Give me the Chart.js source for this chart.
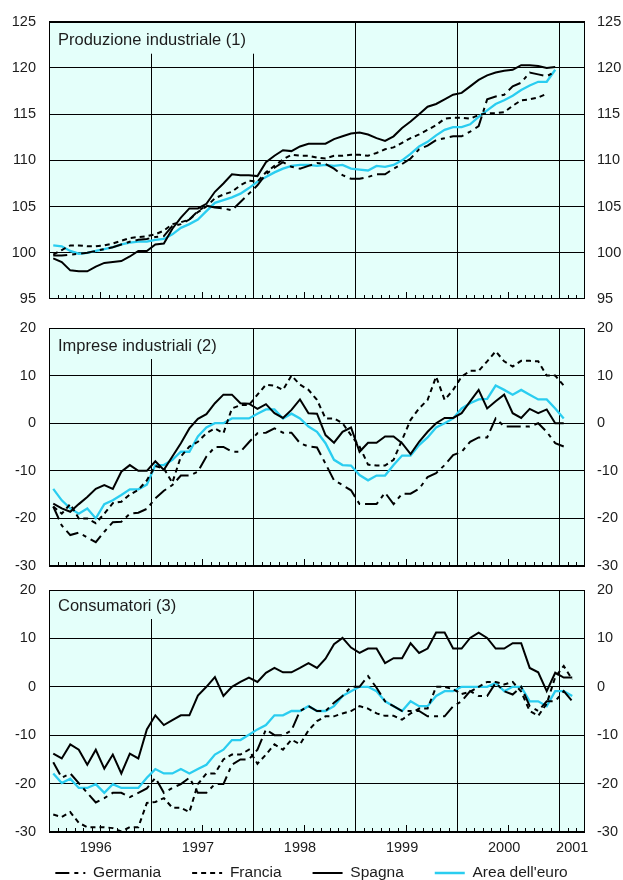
<!DOCTYPE html>
<html>
<head>
<meta charset="utf-8">
<script src="https://cdn.jsdelivr.net/npm/chart.js@4.4.1/dist/chart.umd.min.js"></script>
<style>
  html, body { margin: 0; padding: 0; background: #fff; overflow: hidden; }
  #wrap { position: relative; width: 623px; height: 880px; overflow: hidden; }
  #wrap canvas { position: absolute; left: 0; top: 0; }
</style>
</head>
<body>
<div id="wrap">
  <canvas id="c1" width="623" height="880"></canvas>
  <canvas id="c2" width="623" height="880"></canvas>
  <canvas id="c3" width="623" height="940"></canvas>
</div>
<script>
// categories: months from Jan 1996 to Mar 2001
const years = ['1996', '1997', '1998', '1999', '2000', '2001'];
const monthNames = ['gen', 'feb', 'mar', 'apr', 'mag', 'giu', 'lug', 'ago', 'set', 'ott', 'nov', 'dic'];
const months = [];
years.forEach(y => monthNames.forEach(m => months.push(m + ' ' + y)));
months.length = 63;
const yearTickIndex = [5, 17, 29, 41, 53, 61];

const seriesNames = ['Germania', 'Francia', 'Spagna', "Area dell'euro"];

// Produzione industriale (1)
const prodGermania = [
  99.7, 99.7, 99.8, 99.9, 100.0, 100.2, 100.4, 100.6, 100.9, 101.2,
  101.4, 101.5, 101.7, 101.8, 102.9, 103.1, 103.6, 104.5, 105.1, 104.9,
  104.8, 104.6, 105.5, 106.4, 107.3, 108.5, 109.2, 109.8, 109.3, 109.1,
  109.4, 109.7, 109.6, 109.1, 108.4, 108.0, 108.0, 108.2, 108.5, 108.5,
  109.1, 109.6, 110.2, 111.2, 111.6, 112.2, 112.4, 112.6, 112.6, 113.1,
  113.7, 116.6, 116.9, 117.1, 118.0, 118.4, 119.5, 119.3, 119.1, 119.6
];
const prodFrancia = [
  99.8, 100.3, 100.8, 100.8, 100.7, 100.7, 100.8, 101.0, 101.3, 101.6,
  101.7, 101.8, 102.0, 102.4, 103.1, 103.3, 103.6, 104.4, 105.0, 105.9,
  106.3, 106.6, 107.3, 107.8, 107.7, 108.7, 109.4, 110.1, 110.6, 110.5,
  110.5, 110.3, 110.2, 110.5, 110.5, 110.6, 110.6, 110.5, 110.8, 111.2,
  111.4, 111.9, 112.4, 112.8, 113.3, 113.8, 114.5, 114.6, 114.6, 114.5,
  114.9, 115.1, 115.1, 115.2, 115.9, 116.5, 116.6, 116.8, 117.2, null
];
const prodSpagna = [
  99.4, 99.0, 98.1, 98.0, 98.0, 98.5, 98.9, 99.0, 99.1, 99.6,
  100.2, 100.2, 100.9, 101.0, 102.6, 103.8, 104.8, 104.8, 105.3, 106.6,
  107.5, 108.5, 108.4, 108.4, 108.3, 109.8, 110.5, 111.1, 111.0, 111.5,
  111.8, 111.8, 111.8, 112.3, 112.6, 112.9, 113.0, 112.8, 112.4, 112.1,
  112.6, 113.5, 114.2, 115.0, 115.8, 116.1, 116.6, 117.1, 117.3, 118.0,
  118.7, 119.2, 119.5, 119.7, 119.8, 120.3, 120.3, 120.2, 120.0, 120.1
];
const prodEuro = [
  100.8, 100.7, 100.2, 99.9, 100.0, 100.2, 100.4, 100.6, 100.9, 101.1,
  101.2, 101.2, 101.4, 101.5, 102.0, 102.7, 103.1, 103.6, 104.5, 105.4,
  105.7, 106.0, 106.4, 107.0, 107.7, 108.2, 108.7, 109.1, 109.4, 109.5,
  109.5, 109.4, 109.5, 109.4, 109.5, 109.1, 109.0, 108.9, 109.4, 109.3,
  109.5, 110.0, 110.7, 111.5, 112.0, 112.7, 113.3, 113.6, 113.6, 113.9,
  114.7, 115.4, 116.1, 116.5, 117.0, 117.6, 118.1, 118.5, 118.5, 119.8
];

// Imprese industriali (2)
const impGermania = [
  -17.5, -21.5, -23.5, -23.0, -24.0, -25.0, -22.8, -20.8, -20.7, -19.0,
  -18.8, -18.0, -15.8, -14.2, -13.0, -11.0, -11.0, -10.2, -7.0, -5.0,
  -5.0, -6.0, -6.0, -4.0, -2.1, -2.0, -1.1, -2.0, -2.0, -4.2,
  -4.9, -5.1, -8.5, -12.0, -13.0, -14.1, -17.0, -17.0, -17.0, -14.6,
  -17.0, -14.8, -14.8, -13.8, -11.3, -10.5, -8.8, -6.7, -6.0, -3.9,
  -3.0, -3.0, 1.0, -0.7, -0.7, -0.7, -0.7, 0.0, -1.8, -4.2, -4.9
];
const impFrancia = [
  -17.5, -19.0, -17.0, -20.0, -20.0, -21.0, -19.0, -16.8, -16.5, -15.0,
  -14.0, -12.0, -9.0, -9.5, -12.5, -7.0, -4.9, -3.9, -2.1, -1.1,
  -2.1, 3.1, 3.8, 3.8, 6.0, 8.1, 7.9, 7.0, 10.0, 8.1,
  7.0, 4.9, 1.0, 1.0, 0.0, -2.5, -4.9, -8.7, -8.9, -8.9,
  -7.7, -3.5, 0.7, 3.1, 4.9, 9.8, 4.9, 7.0, 9.8, 11.0,
  11.0, 13.0, 15.1, 13.0, 11.9, 13.1, 13.1, 13.0, 10.0, 10.0, 7.9
];
const impSpagna = [
  -16.9, -17.9, -18.6, -17.0, -15.5, -13.8, -13.0, -13.8, -10.2, -8.8,
  -10.0, -10.0, -8.0, -9.8, -7.0, -4.2, -1.1, 0.9, 1.9, 4.2,
  6.0, 6.0, 4.2, 4.1, 3.0, 4.0, 2.1, 1.1, 2.8, 5.0,
  2.1, 2.0, -2.5, -4.1, -1.8, -0.9, -6.0, -4.1, -4.1, -2.8,
  -2.8, -4.2, -6.5, -3.9, -1.8, 0.0, 1.1, 1.1, 2.1, 4.6,
  7.0, 3.1, 4.6, 6.0, 2.1, 1.1, 3.0, 2.1, 2.9, 0.0, 0.0
];
const impEuro = [
  -13.8, -16.2, -17.9, -19.0, -17.9, -20.0, -17.0, -16.2, -15.1, -13.9,
  -13.9, -12.9, -8.8, -8.8, -7.7, -6.0, -6.0, -2.8, -0.9, 0.0,
  0.0, 1.0, 1.0, 1.0, 2.0, 2.9, 2.9, 1.0, 2.0, 1.0,
  -0.7, -1.8, -4.2, -7.7, -8.8, -8.9, -10.9, -12.0, -11.0, -11.0,
  -8.8, -6.8, -6.8, -4.6, -3.0, -0.9, 0.0, 1.0, 3.1, 4.2,
  5.0, 5.1, 7.9, 7.0, 6.0, 7.0, 6.0, 5.0, 5.0, 3.1, 1.0
];

// Consumatori (3)
const consGermania = [
  -15.6, -18.8, -17.9, -19.9, -21.9, -23.9, -23.0, -21.9, -21.9, -22.8,
  -21.9, -21.0, -18.8, -21.9, -20.9, -20.1, -18.8, -21.9, -21.9, -20.1,
  -20.1, -16.1, -15.0, -15.0, -13.0, -8.8, -10.0, -10.0, -9.0, -5.0,
  -4.0, -5.0, -5.0, -3.3, -1.9, 0.0, 0.0, 2.2, -0.2, -3.0,
  -4.0, -5.0, -5.0, -5.0, -6.1, -6.1, -6.1, -4.0, -3.0, -0.9,
  -1.9, -1.9, 0.8, -0.9, -1.6, 0.0, -4.0, -5.0, -3.0, -3.0,
  -0.9, -3.0
];
const consFrancia = [
  -26.4, -26.9, -25.9, -28.1, -29.0, -29.0, -29.0, -29.2, -29.9, -29.0,
  -29.0, -24.0, -23.8, -23.0, -25.0, -25.0, -25.9, -20.1, -17.9, -17.9,
  -15.0, -14.0, -14.0, -13.0, -15.9, -14.0, -11.9, -13.0, -10.9, -11.9,
  -9.0, -7.1, -6.1, -6.1, -5.5, -5.0, -4.0, -4.5, -5.5, -6.0,
  -6.0, -6.8, -5.5, -4.5, -4.5, 0.0, 0.0, -0.5, -1.5, -1.0,
  0.0, 1.0, 1.0, 0.5, 1.0, -1.0, -5.0, -6.0, -3.5, 2.0,
  4.3, 1.5
];
const consSpagna = [
  -13.8, -14.8, -11.9, -13.0, -16.1, -13.0, -16.9, -14.0, -17.9, -13.8,
  -14.8, -8.8, -5.9, -7.9, -6.9, -5.9, -5.9, -1.8, 0.0, 2.0,
  -1.9, 0.0, 1.0, 1.9, 1.0, 2.9, 3.9, 3.0, 3.0, 3.9,
  4.9, 3.9, 5.8, 8.8, 10.1, 8.1, 7.0, 7.9, 7.9, 4.9,
  5.9, 5.9, 9.0, 7.0, 7.9, 11.2, 11.2, 7.9, 7.9, 10.1,
  11.2, 10.1, 7.9, 7.9, 9.0, 9.0, 3.9, 3.0, -0.9, 2.9,
  1.9, 1.9
];
const consEuro = [
  -17.9, -19.9, -19.0, -20.9, -20.9, -20.1, -21.9, -20.1, -20.9, -20.9,
  -20.9, -18.8, -17.0, -17.9, -17.9, -17.0, -17.9, -17.0, -16.1, -14.0,
  -13.0, -11.0, -11.0, -9.9, -8.8, -7.9, -5.9, -5.9, -5.0, -5.0,
  -4.0, -5.0, -5.0, -4.0, -1.9, -0.9, 0.0, 0.0, -0.9, -3.0,
  -4.0, -5.0, -3.0, -4.0, -4.0, -1.9, -0.9, -0.9, 0.0, 0.0,
  0.0, 0.0, 0.8, -0.9, 0.0, 0.0, -3.0, -3.0, -4.0, -0.9,
  -0.9, -1.9
];

const BG = '#E4FFFA';
const CYAN = '#2ACDF0';
const FONT = '"Liberation Sans", Arial, sans-serif';
const TEXT = '#1c1c1c';

// fill plot area, title box, month ticks, frame
const panelDeco = {
  id: 'panelDeco',
  afterLayout(chart, args, opts) {
    // pull the legend row up under the year labels
    const lg = chart.legend;
    if (lg && opts.legendTop != null) {
      const d = lg.top - opts.legendTop;
      lg.top -= d;
      lg.bottom -= d;
    }
  },
  beforeDraw(chart) {
    const a = chart.chartArea, ctx = chart.ctx;
    ctx.save();
    ctx.fillStyle = BG;
    ctx.fillRect(a.left, a.top, a.right - a.left, a.bottom - a.top);
    ctx.restore();
  },
  beforeDatasetsDraw(chart, args, opts) {
    const a = chart.chartArea, ctx = chart.ctx, xs = chart.scales.x;
    ctx.save();
    // month ticks along the bottom
    ctx.strokeStyle = '#000';
    ctx.lineWidth = 1;
    ctx.beginPath();
    for (let i = 1; i < months.length; i++) {
      if (i % 12 === 0) continue;
      const x = Math.round(xs.getPixelForValue(i - 0.5)) + 0.5;
      const len = i % 12 === 6 ? 7 : 4;
      ctx.moveTo(x, a.bottom);
      ctx.lineTo(x, a.bottom - len);
    }
    ctx.stroke();
    // title box
    ctx.font = '16.5px ' + FONT;
    const w = ctx.measureText(opts.text).width;
    ctx.fillStyle = BG;
    ctx.fillRect(a.left + 1, a.top + 1, w + 18, opts.boxH);
    ctx.fillStyle = TEXT;
    ctx.textBaseline = 'middle';
    ctx.fillText(opts.text, a.left + 9, a.top + opts.textY);
    ctx.restore();
  },
  afterDraw(chart) {
    const a = chart.chartArea, ctx = chart.ctx;
    ctx.save();
    ctx.strokeStyle = '#000';
    ctx.lineWidth = 1;
    ctx.strokeRect(Math.round(a.left) + 0.5, Math.round(a.top) + 0.5,
      Math.round(a.right - a.left) - 1, Math.round(a.bottom - a.top) - 1);
    ctx.restore();
  }
};

function buildDatasets(g, f, s, e) {
  const vals = [g, f, s, e];
  const colors = ['#000', '#000', '#000', CYAN];
  const dashes = [[14, 5, 4, 5], [5, 4], [], []];
  return seriesNames.map((name, k) => ({
    label: name,
    data: vals[k],
    borderColor: colors[k],
    backgroundColor: colors[k],
    borderDash: dashes[k],
    borderWidth: k === 3 ? 2.3 : 2,
    pointRadius: 0,
    tension: 0,
    spanGaps: false
  }));
}

function legendItems(chart) {
  const items = Chart.defaults.plugins.legend.labels.generateLabels(chart);
  items.forEach(it => {
    const ds = chart.data.datasets[it.datasetIndex];
    it.lineDash = ds.borderDash;
    it.lineWidth = ds.borderWidth;
    it.strokeStyle = ds.borderColor;
  });
  return items;
}

function makePanel(id, p) {
  const tickFont = { size: 14.5, family: FONT };
  return new Chart(document.getElementById(id), {
    type: 'line',
    data: { labels: months, datasets: buildDatasets(...p.data) },
    plugins: [panelDeco],
    options: {
      responsive: false,
      animation: false,
      devicePixelRatio: 1,
      layout: { padding: { top: p.top, bottom: p.bottom, left: 0, right: 0 } },
      plugins: {
        legend: p.legend ? {
          display: true,
          position: 'bottom',
          labels: {
            usePointStyle: true,
            pointStyle: 'line',
            pointStyleWidth: 30,
            padding: 31,
            color: TEXT,
            font: { size: 15.5, family: FONT },
            generateLabels: legendItems
          }
        } : { display: false },
        tooltip: { enabled: false },
        panelDeco: { text: p.title, boxH: p.boxH, textY: p.textY, legendTop: p.legendTop }
      },
      scales: {
        x: {
          type: 'category',
          offset: true,
          grid: {
            offset: true,
            drawTicks: false,
            lineWidth: 1,
            color: c => (c.index > 0 && c.index < 63 && c.index % 12 === 0) ? '#000' : 'rgba(0,0,0,0)'
          },
          border: { display: false },
          ticks: {
            display: p.xLabels,
            autoSkip: false,
            maxRotation: 0,
            minRotation: 0,
            padding: 7,
            color: TEXT,
            font: tickFont,
            callback: (v, i) => {
              const k = yearTickIndex.indexOf(i);
              return k >= 0 ? years[k] : '';
            }
          },
          afterFit: a => { a.height = p.xLabels ? 28 : 0; }
        },
        y: {
          position: 'left',
          min: p.min, max: p.max,
          grid: { color: '#000', lineWidth: 1, drawTicks: false },
          border: { display: false },
          ticks: { stepSize: p.step, padding: 13, color: TEXT, font: tickFont },
          afterFit: a => { a.width = 49; }
        },
        y2: {
          position: 'right',
          min: p.min, max: p.max,
          grid: { display: false, drawTicks: false },
          border: { display: false },
          ticks: { stepSize: p.step, padding: 12, color: TEXT, font: tickFont },
          afterFit: a => { a.width = 38; }
        }
      }
    }
  });
}

makePanel('c1', {
  title: 'Produzione industriale (1)',
  data: [prodGermania, prodFrancia, prodSpagna, prodEuro],
  min: 95, max: 125, step: 5,
  top: 19, bottom: 880 - 299,
  boxH: 31, textY: 18.5,
  xLabels: false, legend: false
});

makePanel('c2', {
  title: 'Imprese industriali (2)',
  data: [impGermania, impFrancia, impSpagna, impEuro],
  min: -30, max: 20, step: 10,
  top: 328, bottom: 880 - 566,
  boxH: 30, textY: 18.5,
  xLabels: false, legend: false
});

makePanel('c3', {
  title: 'Consumatori (3)',
  data: [consGermania, consFrancia, consSpagna, consEuro],
  min: -30, max: 20, step: 10,
  top: 590, bottom: 940 - 832 - 28 - 56.5,
  boxH: 28, textY: 16.5,
  legendTop: 873 - 31 - 7.75,
  xLabels: true, legend: true
});
</script>
</body>
</html>
